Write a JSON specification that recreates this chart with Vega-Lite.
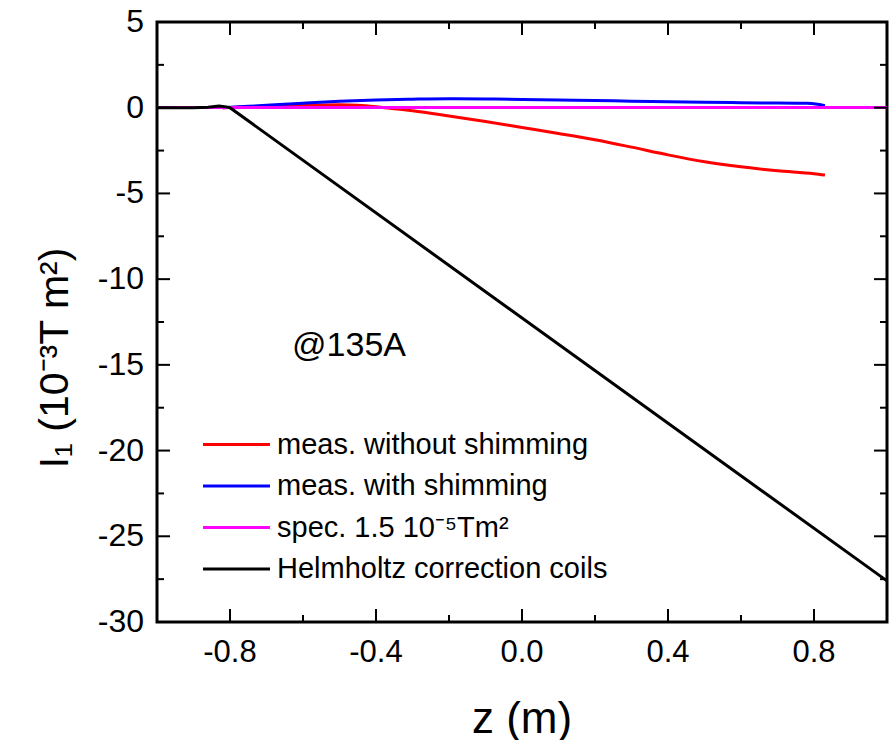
{
  "$schema": "https://vega.github.io/schema/vega-lite/v6.json",
  "width": 730,
  "height": 600,
  "autosize": {"type": "none"},
  "padding": {"left": 157, "top": 22, "right": 2, "bottom": 118},
  "background": "white",
  "config": {
    "font": "Liberation Sans",
    "view": {"stroke": "#000000", "strokeWidth": 3}
  },
  "datasets": {
    "curves": [
      {"series": "meas. without shimming", "z": -0.82, "I": 0.0},
      {"series": "meas. without shimming", "z": -0.75, "I": 0.05},
      {"series": "meas. without shimming", "z": -0.7, "I": 0.09},
      {"series": "meas. without shimming", "z": -0.6, "I": 0.15},
      {"series": "meas. without shimming", "z": -0.5, "I": 0.18},
      {"series": "meas. without shimming", "z": -0.45, "I": 0.15},
      {"series": "meas. without shimming", "z": -0.4, "I": 0.06},
      {"series": "meas. without shimming", "z": -0.35, "I": -0.06},
      {"series": "meas. without shimming", "z": -0.3, "I": -0.18},
      {"series": "meas. without shimming", "z": -0.2, "I": -0.48},
      {"series": "meas. without shimming", "z": -0.1, "I": -0.8},
      {"series": "meas. without shimming", "z": 0.0, "I": -1.15},
      {"series": "meas. without shimming", "z": 0.1, "I": -1.5},
      {"series": "meas. without shimming", "z": 0.2, "I": -1.87},
      {"series": "meas. without shimming", "z": 0.3, "I": -2.3},
      {"series": "meas. without shimming", "z": 0.4, "I": -2.75},
      {"series": "meas. without shimming", "z": 0.5, "I": -3.15},
      {"series": "meas. without shimming", "z": 0.6, "I": -3.45},
      {"series": "meas. without shimming", "z": 0.7, "I": -3.68},
      {"series": "meas. without shimming", "z": 0.8, "I": -3.85},
      {"series": "meas. without shimming", "z": 0.83, "I": -3.93},
      {"series": "meas. with shimming", "z": -0.82, "I": 0.0},
      {"series": "meas. with shimming", "z": -0.75, "I": 0.08},
      {"series": "meas. with shimming", "z": -0.7, "I": 0.14},
      {"series": "meas. with shimming", "z": -0.6, "I": 0.26},
      {"series": "meas. with shimming", "z": -0.5, "I": 0.37},
      {"series": "meas. with shimming", "z": -0.4, "I": 0.45},
      {"series": "meas. with shimming", "z": -0.3, "I": 0.5},
      {"series": "meas. with shimming", "z": -0.2, "I": 0.53},
      {"series": "meas. with shimming", "z": -0.1, "I": 0.51},
      {"series": "meas. with shimming", "z": 0.0, "I": 0.48},
      {"series": "meas. with shimming", "z": 0.1, "I": 0.45},
      {"series": "meas. with shimming", "z": 0.2, "I": 0.42},
      {"series": "meas. with shimming", "z": 0.3, "I": 0.38},
      {"series": "meas. with shimming", "z": 0.4, "I": 0.35},
      {"series": "meas. with shimming", "z": 0.5, "I": 0.32},
      {"series": "meas. with shimming", "z": 0.6, "I": 0.29},
      {"series": "meas. with shimming", "z": 0.7, "I": 0.27},
      {"series": "meas. with shimming", "z": 0.78, "I": 0.26},
      {"series": "meas. with shimming", "z": 0.81, "I": 0.2},
      {"series": "meas. with shimming", "z": 0.83, "I": 0.12},
      {"series": "spec. 1.5 10⁻⁵Tm²", "z": -1.0, "I": 0.015},
      {"series": "spec. 1.5 10⁻⁵Tm²", "z": 1.0, "I": 0.015},
      {"series": "Helmholtz correction coils", "z": -1.0, "I": 0.0},
      {"series": "Helmholtz correction coils", "z": -0.9, "I": 0.0},
      {"series": "Helmholtz correction coils", "z": -0.86, "I": 0.03},
      {"series": "Helmholtz correction coils", "z": -0.83, "I": 0.1},
      {"series": "Helmholtz correction coils", "z": -0.81, "I": 0.05},
      {"series": "Helmholtz correction coils", "z": -0.8, "I": 0.0},
      {"series": "Helmholtz correction coils", "z": 1.0, "I": -27.6}
    ],
    "notes": [
      {"z": -0.63, "I": -14.5, "label": "@135A"}
    ],
    "titles": [
      {"axis": "x", "z": 0, "I": -30, "label": "z (m)"},
      {"axis": "y", "z": -1, "I": -14.6, "label": "I₁ (10⁻³T m²)"}
    ],
    "zTicks": [
      {"v": -0.8, "kind": "major", "label": "-0.8"}, {"v": -0.6, "kind": "minor", "label": ""},
      {"v": -0.4, "kind": "major", "label": "-0.4"}, {"v": -0.2, "kind": "minor", "label": ""},
      {"v": 0.0, "kind": "major", "label": "0.0"}, {"v": 0.2, "kind": "minor", "label": ""},
      {"v": 0.4, "kind": "major", "label": "0.4"}, {"v": 0.6, "kind": "minor", "label": ""},
      {"v": 0.8, "kind": "major", "label": "0.8"}
    ],
    "iTicks": [
      {"v": -30, "kind": "major", "label": "-30"},
      {"v": -27.5, "kind": "minor", "label": ""}, {"v": -25, "kind": "major", "label": "-25"},
      {"v": -22.5, "kind": "minor", "label": ""}, {"v": -20, "kind": "major", "label": "-20"},
      {"v": -17.5, "kind": "minor", "label": ""}, {"v": -15, "kind": "major", "label": "-15"},
      {"v": -12.5, "kind": "minor", "label": ""}, {"v": -10, "kind": "major", "label": "-10"},
      {"v": -7.5, "kind": "minor", "label": ""}, {"v": -5, "kind": "major", "label": "-5"},
      {"v": -2.5, "kind": "minor", "label": ""}, {"v": 0, "kind": "major", "label": "0"},
      {"v": 2.5, "kind": "minor", "label": ""}, {"v": 5, "kind": "major", "label": "5"}
    ]
  },
  "layer": [
    {
      "data": {"name": "curves"},
      "transform": [{"filter": "datum.series !== 'Helmholtz correction coils'"}],
      "mark": {"type": "line", "strokeWidth": 3, "interpolate": "monotone"},
      "encoding": {
        "x": {"field": "z", "type": "quantitative", "scale": {"domain": [-1, 1], "nice": false, "zero": false}, "axis": null},
        "y": {"field": "I", "type": "quantitative", "scale": {"domain": [-30, 5], "nice": false, "zero": false}, "axis": null},
        "color": {
          "field": "series", "type": "nominal",
          "sort": ["meas. without shimming", "meas. with shimming", "spec. 1.5 10⁻⁵Tm²", "Helmholtz correction coils"],
          "scale": {
            "domain": ["meas. without shimming", "meas. with shimming", "spec. 1.5 10⁻⁵Tm²", "Helmholtz correction coils"],
            "range": ["#ff0000", "#0000ff", "#ff00ff", "#000000"]
          },
          "legend": {
            "orient": "none",
            "legendX": 65,
            "legendY": 408,
            "title": null,
            "padding": 0,
            "symbolType": "M-3,0H3",
            "symbolSize": 498,
            "symbolStrokeWidth": 3,
            "labelFontSize": 29,
            "labelFont": "Liberation Sans",
            "labelColor": "black",
            "labelOffset": 26,
            "rowPadding": 11.5,
            "labelLimit": 500
          }
        }
      }
    },
    {
      "data": {"name": "curves"},
      "transform": [{"filter": "datum.series === 'Helmholtz correction coils'"}],
      "mark": {"type": "line", "strokeWidth": 3},
      "encoding": {
        "x": {"field": "z", "type": "quantitative", "axis": null},
        "y": {"field": "I", "type": "quantitative", "axis": null},
        "color": {"field": "series", "type": "nominal"}
      }
    },
    {
      "data": {"name": "notes"},
      "mark": {"type": "text", "align": "left", "baseline": "alphabetic", "fontSize": 34, "font": "Liberation Sans", "color": "black"},
      "encoding": {
        "x": {"field": "z", "type": "quantitative", "axis": null},
        "y": {"field": "I", "type": "quantitative", "axis": null},
        "text": {"field": "label"}
      }
    },
    {
      "data": {"name": "zTicks"},
      "transform": [{"filter": "datum.kind === 'major'"}],
      "mark": {"type": "tick", "orient": "vertical", "thickness": 2, "size": 13, "yOffset": -6.5, "color": "black", "opacity": 1},
      "encoding": {
        "x": {"field": "v", "type": "quantitative", "axis": null},
        "y": {"datum": -30, "type": "quantitative", "axis": null}
      }
    },
    {
      "data": {"name": "zTicks"},
      "transform": [{"filter": "datum.kind === 'major'"}],
      "mark": {"type": "tick", "orient": "vertical", "thickness": 2, "size": 13, "yOffset": 6.5, "color": "black", "opacity": 1},
      "encoding": {
        "x": {"field": "v", "type": "quantitative", "axis": null},
        "y": {"datum": 5, "type": "quantitative", "axis": null}
      }
    },
    {
      "data": {"name": "zTicks"},
      "transform": [{"filter": "datum.kind === 'minor'"}],
      "mark": {"type": "tick", "orient": "vertical", "thickness": 2, "size": 7, "yOffset": -3.5, "color": "black", "opacity": 1},
      "encoding": {
        "x": {"field": "v", "type": "quantitative", "axis": null},
        "y": {"datum": -30, "type": "quantitative", "axis": null}
      }
    },
    {
      "data": {"name": "zTicks"},
      "transform": [{"filter": "datum.kind === 'minor'"}],
      "mark": {"type": "tick", "orient": "vertical", "thickness": 2, "size": 7, "yOffset": 3.5, "color": "black", "opacity": 1},
      "encoding": {
        "x": {"field": "v", "type": "quantitative", "axis": null},
        "y": {"datum": 5, "type": "quantitative", "axis": null}
      }
    },
    {
      "data": {"name": "iTicks"},
      "transform": [{"filter": "datum.kind === 'major'"}],
      "mark": {"type": "tick", "orient": "horizontal", "thickness": 2, "size": 13, "xOffset": 6.5, "color": "black", "opacity": 1},
      "encoding": {
        "y": {"field": "v", "type": "quantitative", "axis": null},
        "x": {"datum": -1, "type": "quantitative", "axis": null}
      }
    },
    {
      "data": {"name": "iTicks"},
      "transform": [{"filter": "datum.kind === 'major'"}],
      "mark": {"type": "tick", "orient": "horizontal", "thickness": 2, "size": 13, "xOffset": -6.5, "color": "black", "opacity": 1},
      "encoding": {
        "y": {"field": "v", "type": "quantitative", "axis": null},
        "x": {"datum": 1, "type": "quantitative", "axis": null}
      }
    },
    {
      "data": {"name": "iTicks"},
      "transform": [{"filter": "datum.kind === 'minor'"}],
      "mark": {"type": "tick", "orient": "horizontal", "thickness": 2, "size": 7, "xOffset": 3.5, "color": "black", "opacity": 1},
      "encoding": {
        "y": {"field": "v", "type": "quantitative", "axis": null},
        "x": {"datum": -1, "type": "quantitative", "axis": null}
      }
    },
    {
      "data": {"name": "iTicks"},
      "transform": [{"filter": "datum.kind === 'minor'"}],
      "mark": {"type": "tick", "orient": "horizontal", "thickness": 2, "size": 7, "xOffset": -3.5, "color": "black", "opacity": 1},
      "encoding": {
        "y": {"field": "v", "type": "quantitative", "axis": null},
        "x": {"datum": 1, "type": "quantitative", "axis": null}
      }
    },
    {
      "data": {"name": "zTicks"},
      "transform": [{"filter": "datum.kind === 'major'"}],
      "mark": {"type": "text", "align": "center", "baseline": "alphabetic", "dy": 40, "fontSize": 31, "font": "Liberation Sans", "color": "black"},
      "encoding": {
        "x": {"field": "v", "type": "quantitative", "axis": null},
        "y": {"datum": -30, "type": "quantitative", "axis": null},
        "text": {"field": "label"}
      }
    },
    {
      "data": {"name": "iTicks"},
      "transform": [{"filter": "datum.kind === 'major'"}],
      "mark": {"type": "text", "align": "right", "baseline": "alphabetic", "dx": -13, "dy": 10, "fontSize": 32, "font": "Liberation Sans", "color": "black"},
      "encoding": {
        "y": {"field": "v", "type": "quantitative", "axis": null},
        "x": {"datum": -1, "type": "quantitative", "axis": null},
        "text": {"field": "label"}
      }
    },
    {
      "data": {"name": "titles"},
      "transform": [{"filter": "datum.axis === 'x'"}],
      "mark": {"type": "text", "align": "center", "baseline": "alphabetic", "dy": 111, "fontSize": 44, "font": "Liberation Sans", "color": "black"},
      "encoding": {
        "x": {"field": "z", "type": "quantitative", "axis": null},
        "y": {"field": "I", "type": "quantitative", "axis": null},
        "text": {"field": "label"}
      }
    },
    {
      "data": {"name": "titles"},
      "transform": [{"filter": "datum.axis === 'y'"}],
      "mark": {"type": "text", "align": "center", "baseline": "alphabetic", "angle": 270, "dy": -89, "fontSize": 41, "font": "Liberation Sans", "color": "black"},
      "encoding": {
        "x": {"field": "z", "type": "quantitative", "axis": null},
        "y": {"field": "I", "type": "quantitative", "axis": null},
        "text": {"field": "label"}
      }
    }
  ]
}
